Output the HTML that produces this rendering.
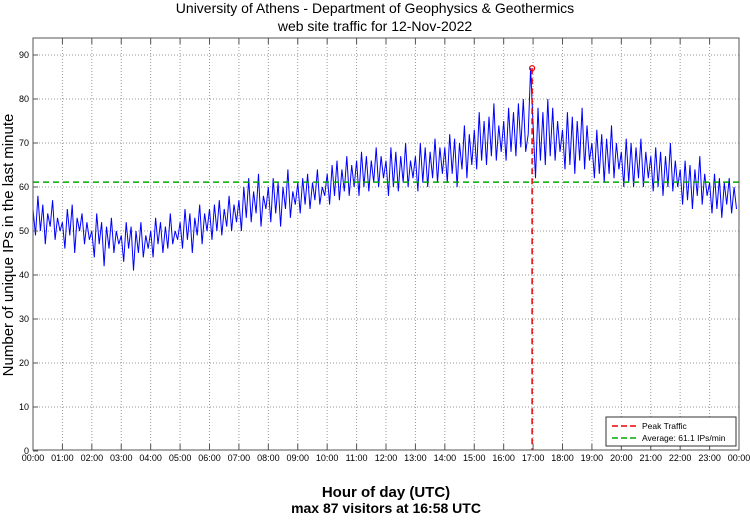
<!DOCTYPE html>
<html><head><meta charset="utf-8"><style>
body{margin:0;background:#fff;width:750px;height:515px;overflow:hidden;font-family:"Liberation Sans",sans-serif}
</style></head><body>
<svg id="chart" width="750" height="515" xmlns="http://www.w3.org/2000/svg" font-family="Liberation Sans, sans-serif">
<text x="375" y="13" text-anchor="middle" font-size="14">University of Athens - Department of Geophysics &amp; Geothermics</text>
<text x="375" y="31" text-anchor="middle" font-size="14">web site traffic for 12-Nov-2022</text>
<text transform="translate(13,245) rotate(-90)" text-anchor="middle" font-size="15">Number of unique IPs in the last minute</text>
<text x="386" y="497" text-anchor="middle" font-size="15" font-weight="bold">Hour of day (UTC)</text>
<text x="386" y="513" text-anchor="middle" font-size="14" font-weight="bold">max 87 visitors at 16:58 UTC</text>
<g id="grid"></g><g id="series"></g><g id="axes"></g>
</svg>
<script>
const yTicks=[0,10,20,30,40,50,60,70,80,90];
const xTickLabels=["00:00","01:00","02:00","03:00","04:00","05:00","06:00","07:00","08:00","09:00","10:00","11:00","12:00","13:00","14:00","15:00","16:00","17:00","18:00","19:00","20:00","21:00","22:00","23:00","00:00"];
const sampleStepMinutes=5;
const visitors=[
55,49,58,50,56,47,54,51,57,48,53,50,
52,46,55,49,56,45,53,50,54,47,52,48,
50,44,54,47,52,42,51,46,53,45,50,47,
49,43,52,46,51,41,50,45,52,44,49,46,
50,44,53,47,52,45,51,46,54,47,50,48,
52,46,55,48,54,45,53,49,56,47,54,50,
55,48,56,50,57,49,55,51,58,50,56,52,
57,50,60,53,62,52,59,54,63,51,58,55,
60,52,62,54,61,51,60,55,64,53,59,56,
61,54,62,56,63,55,61,57,64,56,60,58,
63,56,65,58,66,57,64,59,67,58,65,60,
66,58,68,60,67,59,66,61,69,60,67,62,
66,58,69,60,68,59,67,61,70,60,66,62,
67,59,70,61,69,60,68,62,71,61,69,63,
69,61,72,63,71,60,70,64,74,62,72,65,
73,64,77,66,75,65,76,67,79,66,74,68,
75,66,78,68,77,67,79,69,80,68,72,87,
74,62,78,66,77,65,80,67,78,66,75,68,
73,64,77,65,76,63,75,66,78,64,74,66,
70,62,73,63,72,61,71,63,74,62,70,64,
68,60,71,61,70,60,69,62,71,60,68,62,
67,59,69,60,68,58,67,60,70,59,66,60,
64,56,66,57,65,55,64,58,67,56,63,58,
61,54,63,55,62,53,61,56,62,54,60,55];
const peakMinute=1018, peakValue=87, averageValue=61.1;

const L=33,R=739,T=38,B=450;
const NS="http://www.w3.org/2000/svg";
const xs=m=>L+m*(R-L)/1440;
const ys=v=>451-v*4.4;
function mk(tag,attrs,parent){const e=document.createElementNS(NS,tag);for(const k in attrs)e.setAttribute(k,attrs[k]);parent.appendChild(e);return e;}
const grid=document.getElementById('grid'),axes=document.getElementById('axes'),ser=document.getElementById('series');
mk('rect',{x:L,y:T,width:R-L,height:B-T,fill:'#fff'},grid);
yTicks.forEach(v=>{
 if(v>0){const g=mk('line',{x1:L,x2:R,y1:ys(v),y2:ys(v),stroke:'#999','stroke-dasharray':'1 2','stroke-width':1},grid);
 
 }
 const t=mk('text',{x:L-4,y:ys(v)+3,'text-anchor':'end','font-size':9},axes);t.textContent=v;
 
 
 mk('line',{x1:L,x2:L+5,y1:ys(v),y2:ys(v),stroke:'#555'},axes);
});
xTickLabels.forEach((lab,i)=>{
 const x=xs(i*60);
 if(i>0&&i<24){const g=mk('line',{x1:x,x2:x,y1:T,y2:B,stroke:'#999','stroke-dasharray':'1 2'},grid);
 
 }
 mk('line',{x1:x,x2:x,y1:B,y2:B-6,stroke:'#555'},axes);
 mk('line',{x1:x,x2:x,y1:T,y2:T+6,stroke:'#555'},axes);
 const t=mk('text',{x:x,y:B+11,'text-anchor':'middle','font-size':9},axes);t.textContent=lab;
 
 
});
mk('rect',{x:L,y:T,width:R-L,height:B-T,fill:'none',stroke:'#555'},axes);
const pts=visitors.map((v,i)=>xs(i*sampleStepMinutes).toFixed(1)+','+ys(v).toFixed(1)).join(' ');
const line=mk('polyline',{points:pts,fill:'none',stroke:'#0000ff','stroke-width':1},ser);


const avg=mk('line',{x1:L,x2:R,y1:ys(averageValue),y2:ys(averageValue),stroke:'#00aa00','stroke-width':1.5,'stroke-dasharray':'6 4'},ser);


const pk=mk('line',{x1:xs(peakMinute),x2:xs(peakMinute),y1:ys(peakValue),y2:B,stroke:'#ee0000','stroke-width':1.5,'stroke-dasharray':'6 4'},ser);


const pc=mk('circle',{cx:xs(peakMinute),cy:ys(peakValue),r:2.5,fill:'none',stroke:'#ee0000','stroke-width':1.2},ser);


const lg=mk('g',{},axes);


mk('rect',{x:606,y:417,width:130,height:29,fill:'#fff',stroke:'#333'},lg);
mk('line',{x1:612,x2:638,y1:426,y2:426,stroke:'#ee0000','stroke-width':1.5,'stroke-dasharray':'6 3'},lg);
mk('line',{x1:612,x2:638,y1:438,y2:438,stroke:'#00aa00','stroke-width':1.5,'stroke-dasharray':'6 3'},lg);
const t1=mk('text',{x:642,y:429,'font-size':8.5},lg);t1.textContent='Peak Traffic';


const t2=mk('text',{x:642,y:441,'font-size':8.5},lg);t2.textContent='Average: 61.1 IPs/min';


</script>
</body></html>
